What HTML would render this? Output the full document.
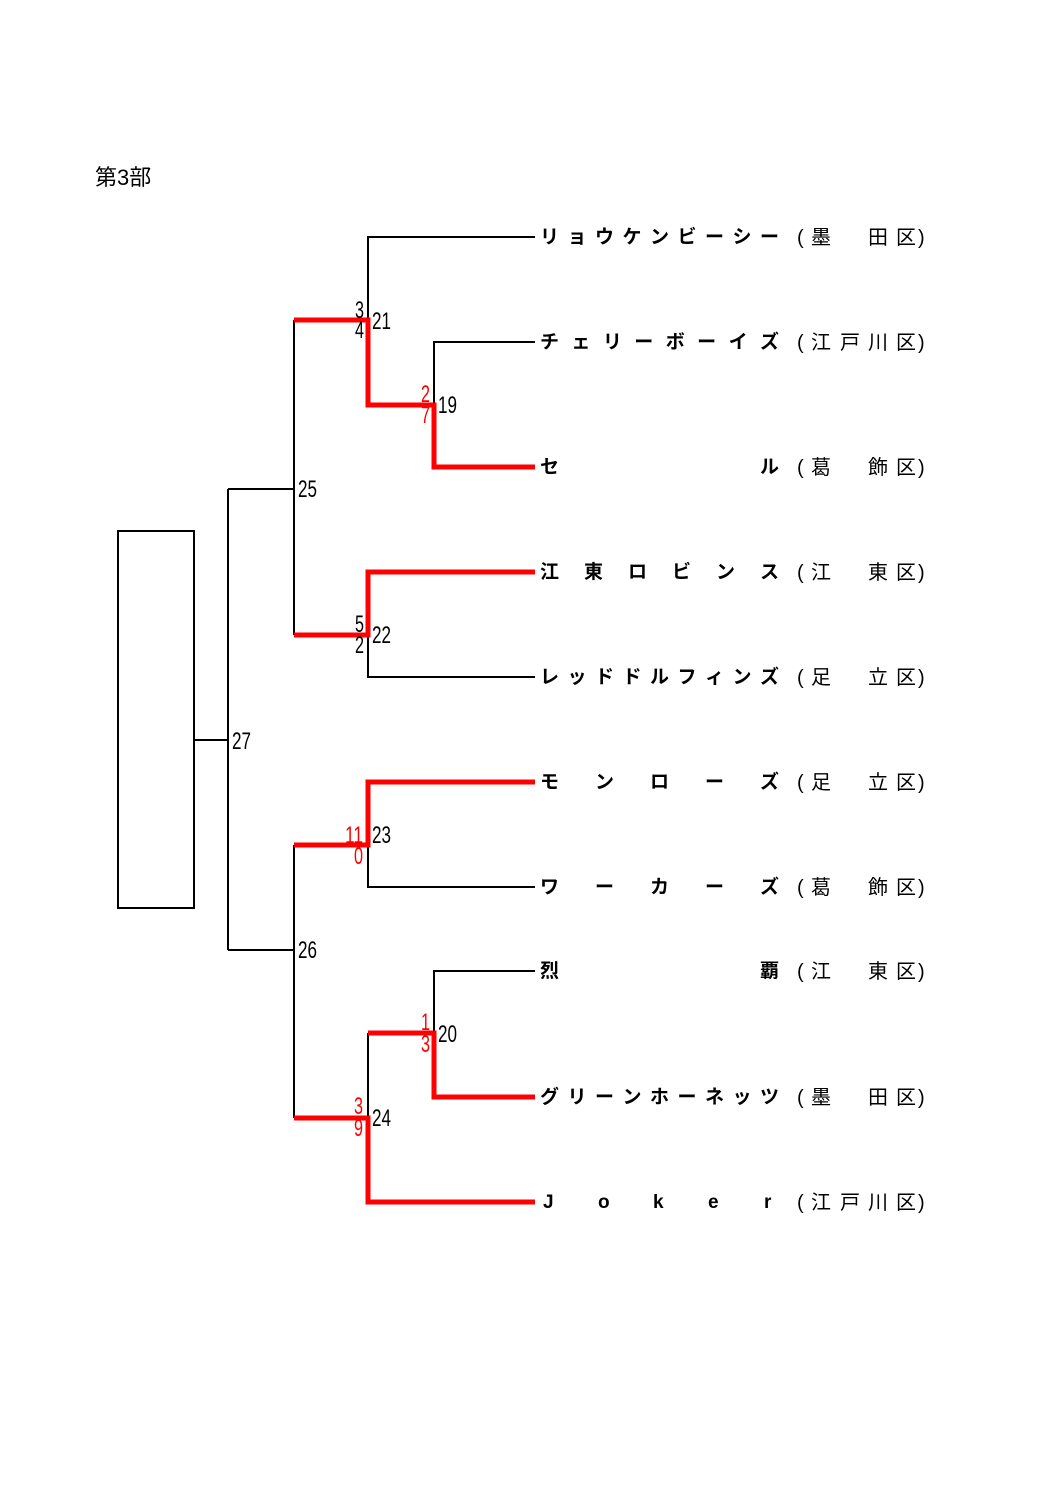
<!DOCTYPE html>
<html><head><meta charset="utf-8"><style>
html,body{margin:0;padding:0;background:#fff;}
svg{display:block;}
.n{font-family:"Liberation Sans","Noto Sans CJK JP",sans-serif;font-size:19px;font-weight:bold;fill:#000;}
.d{font-family:"Liberation Sans","Noto Sans CJK JP",sans-serif;font-size:20px;fill:#000;}
.s{font-family:"Liberation Sans Narrow","Liberation Sans",sans-serif;font-size:24px;}
</style></head><body>
<svg width="1058" height="1497" viewBox="0 0 1058 1497" xmlns="http://www.w3.org/2000/svg">
<text x="95" y="185" style="font-family:'Liberation Sans','Noto Sans CJK JP',sans-serif;font-size:22px;">第3部</text>
<rect x="118" y="531" width="76" height="377" fill="none" stroke="#000" stroke-width="2"/>
<g stroke="#000" stroke-width="2" fill="none">
<path d="M194 740H228M228 489V950M228 489H294M228 950H294"/>
<path d="M294 320V635M294 845V1118"/>
<path d="M535 237H368V320"/>
<path d="M535 342H434V405"/>
<path d="M368 635V677H535"/>
<path d="M368 845V887H535"/>
<path d="M535 971H434V1033"/>
<path d="M368 1033V1118"/>
</g>
<g stroke="#f00" stroke-width="5" fill="none">
<path d="M294 320H368V405H434V467H535"/>
<path d="M294 635H368V572H535"/>
<path d="M294 845H368V782H535"/>
<path d="M294 1118H368V1202H535"/>
<path d="M368 1033H434V1097H535"/>
</g>
<g class="s" fill="#000">
<text x="372" y="329" textLength="19" lengthAdjust="spacingAndGlyphs">21</text>
<text x="438" y="413" textLength="19" lengthAdjust="spacingAndGlyphs">19</text>
<text x="298" y="497" textLength="19" lengthAdjust="spacingAndGlyphs">25</text>
<text x="372" y="643" textLength="19" lengthAdjust="spacingAndGlyphs">22</text>
<text x="232" y="749" textLength="19" lengthAdjust="spacingAndGlyphs">27</text>
<text x="372" y="843" textLength="19" lengthAdjust="spacingAndGlyphs">23</text>
<text x="298" y="958" textLength="19" lengthAdjust="spacingAndGlyphs">26</text>
<text x="438" y="1042" textLength="19" lengthAdjust="spacingAndGlyphs">20</text>
<text x="372" y="1126" textLength="19" lengthAdjust="spacingAndGlyphs">24</text>
<text x="355" y="318" textLength="9" lengthAdjust="spacingAndGlyphs">3</text><text x="355" y="338" textLength="9" lengthAdjust="spacingAndGlyphs">4</text>
<text x="355" y="632" textLength="9" lengthAdjust="spacingAndGlyphs">5</text><text x="355" y="653" textLength="9" lengthAdjust="spacingAndGlyphs">2</text>
</g>
<g class="s" fill="#f00">
<text x="421" y="402" textLength="9" lengthAdjust="spacingAndGlyphs">2</text><text x="421" y="423" textLength="9" lengthAdjust="spacingAndGlyphs">7</text>
<text x="345" y="843" textLength="18" lengthAdjust="spacingAndGlyphs">11</text><text x="354" y="864" textLength="9" lengthAdjust="spacingAndGlyphs">0</text>
<text x="421" y="1030" textLength="9" lengthAdjust="spacingAndGlyphs">1</text><text x="421" y="1052" textLength="9" lengthAdjust="spacingAndGlyphs">3</text>
<text x="354" y="1114" textLength="9" lengthAdjust="spacingAndGlyphs">3</text><text x="354" y="1136" textLength="9" lengthAdjust="spacingAndGlyphs">9</text>
</g>
<g class="n">
<text x="540 567.5 595 622.5 650 677.5 705 732.5 760" y="243">リョウケンビーシー</text>
<text x="540 571.4 602.9 634.3 665.7 697.1 728.6 760" y="348">チェリーボーイズ</text>
<text x="540 760" y="473">セル</text>
<text x="540 584 628 672 716 760" y="578">江東ロビンス</text>
<text x="540 567.5 595 622.5 650 677.5 705 732.5 760" y="683">レッドドルフィンズ</text>
<text x="540 595 650 705 760" y="788">モンローズ</text>
<text x="540 595 650 705 760" y="893">ワーカーズ</text>
<text x="540 760" y="977">烈覇</text>
<text x="540 567.5 595 622.5 650 677.5 705 732.5 760" y="1103">グリーンホーネッツ</text>
<text x="543 598 653 708 764" y="1208">Joker</text>
</g>
<g class="d">
<text x="797 811 868 896 918" y="244">(墨田区)</text>
<text x="797 811 840 868 896 918" y="349">(江戸川区)</text>
<text x="797 811 868 896 918" y="474">(葛飾区)</text>
<text x="797 811 868 896 918" y="579">(江東区)</text>
<text x="797 811 868 896 918" y="684">(足立区)</text>
<text x="797 811 868 896 918" y="789">(足立区)</text>
<text x="797 811 868 896 918" y="894">(葛飾区)</text>
<text x="797 811 868 896 918" y="978">(江東区)</text>
<text x="797 811 868 896 918" y="1104">(墨田区)</text>
<text x="797 811 840 868 896 918" y="1209">(江戸川区)</text>
</g>
</svg>
</body></html>
